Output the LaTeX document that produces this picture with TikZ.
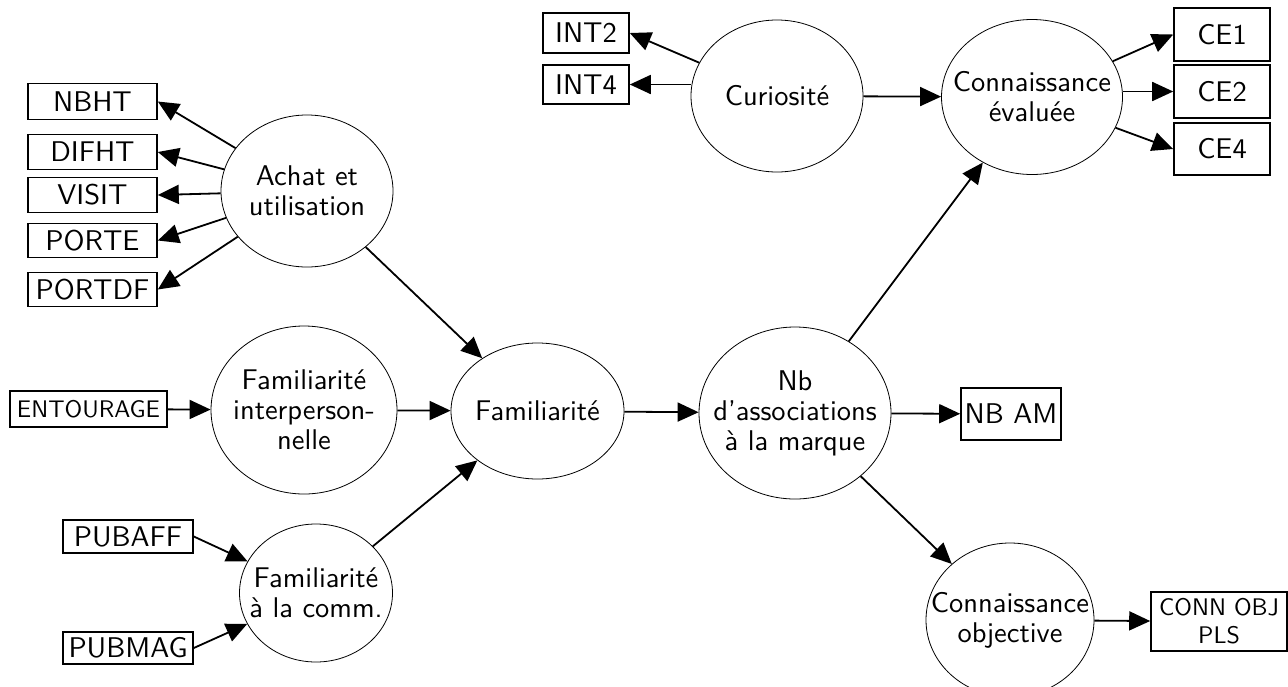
\documentclass[tikz,border=0pt]{standalone}
\usepackage{fontspec}
\setsansfont{lmsans10-regular}[Extension=.otf]
\usetikzlibrary{shapes.geometric,arrows.meta}
\begin{document}
\begin{tikzpicture}[x=1pt,y=-1pt,
  every node/.style={font=\sffamily\fontsize{28.5}{30}\selectfont},
  lat/.style={ellipse,draw,line width=0.8pt,inner sep=0pt},
  ltxt/.style={align=center,inner sep=0pt},
  obs/.style={rectangle,draw,line width=1.6pt,inner sep=0pt,align=center},
  small/.style={font=\sffamily\fontsize{24}{28}\selectfont},
  arr/.style={line width=1.8pt,-{Triangle[length=21pt,width=19pt]}}]
\useasboundingbox (0,0) rectangle (1288,686);

% latent variables (fixed-size ellipses, text centred as a label)
\node[lat,minimum width=172pt,minimum height=152pt,label={[ltxt]center:Achat et\\utilisation}] (achat) at (307,191) {};
\node[lat,minimum width=172pt,minimum height=152pt,label={[ltxt]center:Curiosité}] (cur) at (777,96) {};
\node[lat,minimum width=181pt,minimum height=155pt,label={[ltxt]center:Connaissance\\évaluée}] (ceval) at (1032,97) {};
\node[lat,minimum width=186pt,minimum height=168pt,label={[ltxt]center:Familiarité\\interperson-\\nelle}] (finter) at (304,410) {};
\node[lat,minimum width=153pt,minimum height=138pt,label={[ltxt]center:Familiarité\\à la comm.}] (fcomm) at (316,593) {};
\node[lat,minimum width=173pt,minimum height=136pt,label={[ltxt]center:Familiarité}] (fam) at (537.5,411) {};
\node[lat,minimum width=192pt,minimum height=172pt,label={[ltxt]center:Nb\\d’associations\\à la marque}] (nb) at (795,413) {};
\node[lat,minimum width=168pt,minimum height=154pt,label={[ltxt]center:Connaissance\\objective}] (cobj) at (1010,620) {};

% indicators
\node[obs,minimum width=129pt,minimum height=36pt] (nbht) at (92.5,101.5) {NBHT};
\node[obs,minimum width=129pt,minimum height=35pt] (difht) at (92.5,152) {DIFHT};
\node[obs,minimum width=129pt,minimum height=35pt] (visit) at (92.5,195) {VISIT};
\node[obs,minimum width=129pt,minimum height=34pt] (porte) at (92.5,240.5) {PORTE};
\node[obs,minimum width=129pt,minimum height=34pt] (portdf) at (92.5,289.5) {PORTDF};
\node[obs,minimum width=86pt,minimum height=40pt] (int2) at (586,33) {INT2};
\node[obs,minimum width=86pt,minimum height=39pt] (int4) at (586,84.5) {INT4};
\node[obs,minimum width=96pt,minimum height=53pt] (ce1) at (1222,34.5) {CE1};
\node[obs,minimum width=96pt,minimum height=53pt] (ce2) at (1222,91.5) {CE2};
\node[obs,minimum width=96pt,minimum height=52pt] (ce4) at (1222,149) {CE4};
\node[obs,small,minimum width=157pt,minimum height=36pt] (ent) at (88.5,409) {ENTOURAGE};
\node[obs,minimum width=130pt,minimum height=33pt] (pubaff) at (128,536.5) {PUBAFF};
\node[obs,minimum width=130pt,minimum height=32pt] (pubmag) at (128,648) {PUBMAG};
\node[obs,minimum width=100pt,minimum height=52pt] (nbam) at (1011,414) {NB AM};
\node[obs,small,minimum width=136pt,minimum height=59pt] (connobj) at (1219,621.5) {CONN OBJ\\PLS};

% reflective links
\draw[arr] (achat) -- (nbht.east);
\draw[arr] (achat) -- (difht.east);
\draw[arr] (achat) -- (visit.east);
\draw[arr] (achat) -- (porte.east);
\draw[arr] (achat) -- (portdf.east);
\draw[arr] (cur) -- (int2.east);
\draw[arr] (int4.east -| cur.west) -- (int4.east);
\draw[arr] (cur) -- (ceval);
\draw[arr] (ceval) -- (ce1.west);
\draw[arr] (ce2.west -| ceval.east) -- (ce2.west);
\draw[arr] (ceval) -- (ce4.west);
\draw[arr] (nb) -- (nbam);
\draw[arr] (cobj) -- (connobj);

% formative links and structural paths
\draw[arr] (ent) -- (finter);
\draw[arr] (pubaff.east) -- (fcomm);
\draw[arr] (pubmag.east) -- (fcomm);
\draw[arr] (achat) -- (fam);
\draw[arr] (finter) -- (fam);
\draw[arr] (fcomm) -- (fam);
\draw[arr] (fam) -- (nb);
\draw[arr] (nb) -- (ceval);
\draw[arr] (nb) -- (cobj);
\end{tikzpicture}
\end{document}
